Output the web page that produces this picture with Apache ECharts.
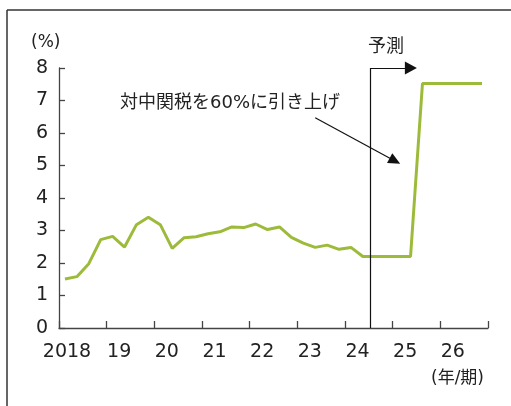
<!DOCTYPE html>
<html>
<head>
<meta charset="utf-8">
<script src="https://cdn.jsdelivr.net/npm/echarts@6/dist/echarts.min.js"></script>
<style>html,body{margin:0;padding:0;background:#fff;}#c{width:511px;height:406px;}</style>
</head>
<body>
<div id="c"></div>
<script>
// Quarterly data 2018Q1 - 2026Q4
const years = ['2018','19','20','21','22','23','24','25','26'];
const quarters = [];
for (let y = 2018; y <= 2026; y++) for (let q = 1; q <= 4; q++) quarters.push(y + 'Q' + q);
const values = [
  1.51, 1.58, 1.98, 2.72,
  2.82, 2.49, 3.18, 3.41,
  3.18, 2.45, 2.78, 2.81,
  2.90, 2.96, 3.11, 3.09,
  3.20, 3.03, 3.11, 2.79,
  2.61, 2.48, 2.55, 2.42,
  2.48, 2.20, 2.20, 2.20,
  2.20, 2.20, 7.52, 7.52,
  7.52, 7.52, 7.52, 7.52
];
const yTicks = [0,1,2,3,4,5,6,7,8];
const forecastStart = 26.15; // position (in quarters) of the forecast divider
const annotation = '対中関税を60%に引き上げ';

const numFont = '"DejaVu Sans", "Noto Sans CJK JP", sans-serif';
const jpFont = '"DejaVu Sans", "Noto Sans CJK JP", sans-serif';
const txt = '#222';
const axisCol = '#444';

const chart = echarts.init(document.getElementById('c'));
chart.setOption({
  animation: false,
  backgroundColor: '#fff',
  grid: { left: 59, right: 23, top: 68, bottom: 78 },
  xAxis: {
    type: 'value', min: 0, max: quarters.length, interval: 4,
    axisLine: { show: true, lineStyle: { color: axisCol, width: 1.3 } },
    axisTick: { show: true, inside: true, length: 7, lineStyle: { color: axisCol, width: 1.3 } },
    splitLine: { show: false },
    axisLabel: {
      margin: 15, showMaxLabel: true, showMinLabel: true,
      formatter: function (v) {
        const i = Math.round(v / 4);
        if (i >= years.length) return '';
        return i === 0 ? '{y|' + years[i] + '}' : '{n|' + years[i] + '}';
      },
      rich: {
        y: { fontSize: 19, fontFamily: numFont, color: txt, padding: [0, 0, 0, 16] },
        n: { fontSize: 19, fontFamily: numFont, color: txt, padding: [0, 0, 0, 25] }
      }
    }
  },
  yAxis: {
    type: 'value', min: yTicks[0], max: yTicks[yTicks.length - 1], interval: 1,
    axisLine: { show: true, lineStyle: { color: axisCol, width: 1.3 } },
    axisTick: { show: true, inside: true, length: 6, lineStyle: { color: axisCol, width: 1.3 } },
    splitLine: { show: false },
    axisLabel: { margin: 11, fontSize: 19, fontFamily: numFont, color: txt }
  },
  series: [
    {
      type: 'line',
      data: values.map((v, i) => [i + 0.5, v]),
      symbol: 'none',
      lineStyle: { color: '#9dbb3a', width: 3 },
      z: 3
    },
    {
      type: 'line', data: [], silent: true,
      markLine: {
        silent: true, animation: false,
        label: { show: false },
        lineStyle: { color: '#111', width: 1.2, type: 'solid' },
        symbolSize: 12,
        data: [
          [{ coord: [forecastStart, 0], symbol: 'none' }, { coord: [forecastStart, 8], symbol: 'none' }],
          [{ coord: [forecastStart, 8], symbol: 'none' }, { coord: [29.53, 8], symbol: 'triangle', symbolSize: [13, 12] }],
          [{ coord: [21.5, 6.47], symbol: 'none' }, { coord: [28.19, 5.14], symbol: 'triangle', symbolSize: [11, 12] }]
        ]
      }
    }
  ],
  graphic: [
    { type: 'line', shape: { x1: 7, y1: 10, x2: 511, y2: 10 }, style: { stroke: '#333', lineWidth: 1.5 } },
    { type: 'line', shape: { x1: 7, y1: 10, x2: 7, y2: 406 }, style: { stroke: '#333', lineWidth: 1.5 } },
    { type: 'text', left: 31, top: 34, style: { text: '(%)', font: '17px ' + jpFont, fill: txt } },
    { type: 'text', left: 120, top: 94, style: { text: annotation, font: '18px ' + jpFont, fill: txt } },
    { type: 'text', left: 368, top: 38, style: { text: '予測', font: '18px ' + jpFont, fill: txt } },
    { type: 'text', left: 431, top: 370, style: { text: '(年/期)', font: '17px ' + jpFont, fill: txt } }
  ]
});
</script>
</body>
</html>
